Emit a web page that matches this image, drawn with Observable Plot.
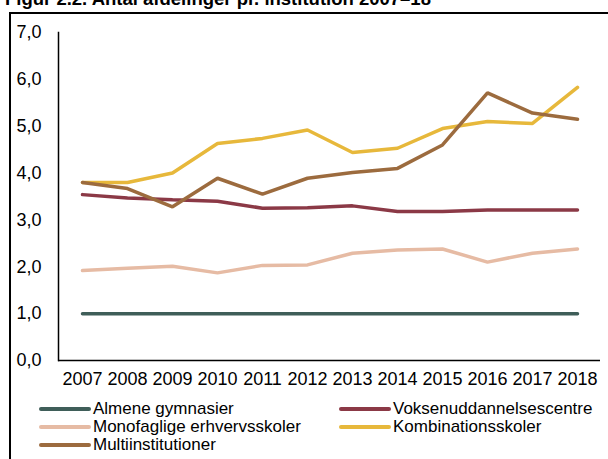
<!DOCTYPE html>
<html>
<head>
<meta charset="utf-8">
<script src="https://cdn.jsdelivr.net/npm/d3@7"></script>
<script src="https://cdn.jsdelivr.net/npm/@observablehq/plot@0.6"></script>
<style>
  html, body { margin: 0; padding: 0; background: #fff; }
  body { width: 608px; height: 459px; position: relative; overflow: hidden; font-family: "Liberation Sans", Arial, sans-serif; }
  #title { position: absolute; left: 5px; top: -12px; font-weight: bold; font-size: 18.5px; line-height: 21px; white-space: nowrap; color: #000; }
  #frame { position: absolute; left: 9px; top: 12px; width: 620px; height: 460px; border-left: 2px solid #000; border-top: 2px solid #000; }
  #chart { position: absolute; left: 0; top: 0; }
  .leg { position: absolute; font-size: 17px; color: #000; white-space: nowrap; display: flex; align-items: center; height: 18px; }
  .leg .sw { display: inline-block; width: 52px; height: 4px; border-radius: 2px; margin-right: 2px; }
</style>
</head>
<body>
<div id="title">Figur 2.2. Antal afdelinger pr. institution 2007–18</div>
<div id="frame"></div>
<div id="chart"></div>
<div id="legend"></div>
<script>
const years = ["2007","2008","2009","2010","2011","2012","2013","2014","2015","2016","2017","2018"];
const seriesNames = ["Almene gymnasier","Voksenuddannelsescentre","Monofaglige erhvervsskoler","Kombinationsskoler","Multiinstitutioner"];
const seriesColors = ["#3f5e59","#8b3946","#e6bba4","#e7b83b","#9c6b3e"];
const almene =      [1.00,1.00,1.00,1.00,1.00,1.00,1.00,1.00,1.00,1.00,1.00,1.00];
const voksen =      [3.54,3.47,3.43,3.40,3.25,3.26,3.30,3.18,3.18,3.21,3.21,3.21];
const monofaglige = [1.92,1.97,2.01,1.87,2.03,2.04,2.29,2.36,2.38,2.10,2.29,2.38];
const kombination = [3.80,3.80,4.00,4.63,4.74,4.92,4.44,4.53,4.95,5.10,5.06,5.83];
const multi =       [3.80,3.67,3.28,3.89,3.55,3.89,4.01,4.10,4.60,5.71,5.28,5.15];
const yTicks = [0,1,2,3,4,5,6,7];

const allSeries = [almene, voksen, monofaglige, kombination, multi];
const data = [];
allSeries.forEach((vals, i) => vals.forEach((v, j) => data.push({year: years[j], value: v, series: seriesNames[i]})));

const fmt = d => d.toFixed(1).replace(".", ",");

const chart = Plot.plot({
  width: 608,
  height: 395,
  marginLeft: 58,
  marginRight: 8,
  marginTop: 32,
  marginBottom: 35,
  style: {fontFamily: "'Liberation Sans', Arial, sans-serif", fontSize: "18px", color: "#000", background: "transparent"},
  x: {type: "point", domain: years, padding: 0.5},
  y: {domain: [0, 7]},
  color: {domain: seriesNames, range: seriesColors},
  marks: [
    Plot.axisY({ticks: yTicks, tickFormat: fmt, tickSize: 0, tickPadding: 17, fontSize: 18, label: null}),
    Plot.axisX({tickSize: 0, tickPadding: 12, fontSize: 18, label: null}),
    Plot.line(data, {x: "year", y: "value", z: "series", stroke: "series", strokeWidth: 3.5, strokeLinejoin: "miter", strokeLinecap: "round"}),
    Plot.frame({anchor: "left", stroke: "#000", strokeWidth: 1.5}),
    Plot.ruleY([0], {stroke: "#000", strokeWidth: 1.5})
  ]
});
document.getElementById("chart").appendChild(chart);

// Legend
const legPos = [
  {left: 39, top: 400}, {left: 339, top: 400},
  {left: 39, top: 418}, {left: 339, top: 418},
  {left: 39, top: 436}
];
const legend = document.getElementById("legend");
seriesNames.forEach((name, i) => {
  const d = document.createElement("div");
  d.className = "leg";
  d.style.left = legPos[i].left + "px";
  d.style.top = legPos[i].top + "px";
  const sw = document.createElement("span");
  sw.className = "sw";
  sw.style.background = seriesColors[i];
  d.appendChild(sw);
  d.appendChild(document.createTextNode(name));
  legend.appendChild(d);
});
</script>
</body>
</html>
